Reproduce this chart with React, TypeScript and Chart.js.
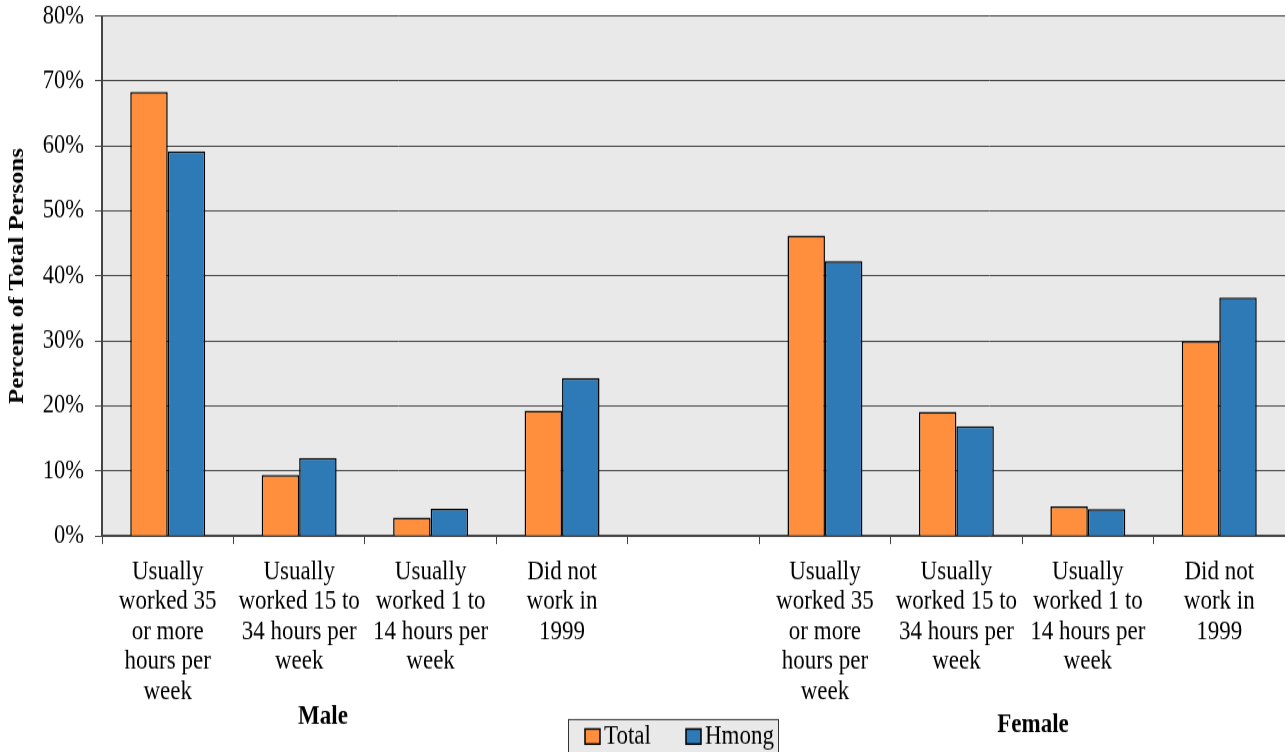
import React, { useEffect, useRef } from "react";
import { Chart, registerables } from "chart.js";

Chart.register(...registerables);

const categories: (string | string[])[] = [
  ["Usually", "worked 35", "or more", "hours per", "week"],
  ["Usually", "worked 15 to", "34 hours per", "week"],
  ["Usually", "worked 1 to", "14 hours per", "week"],
  ["Did not", "work in", "1999"],
  "",
  ["Usually", "worked 35", "or more", "hours per", "week"],
  ["Usually", "worked 15 to", "34 hours per", "week"],
  ["Usually", "worked 1 to", "14 hours per", "week"],
  ["Did not", "work in", "1999"],
];

const totalValues: (number | null)[] = [68.3, 9.4, 2.85, 19.3, null, 46.2, 19.1, 4.55, 30.0];
const hmongValues: (number | null)[] = [59.2, 12.0, 4.2, 24.3, null, 42.3, 16.9, 4.15, 36.7];

const seriesNames = ["Total", "Hmong"];
const seriesColors = ["#FF8F3D", "#2E7AB6"];
const groupLabels = ["Male", "Female"];
const yTicks = [0, 10, 20, 30, 40, 50, 60, 70, 80];
const yTitle = "Percent of Total Persons";

const SERIF = "'Liberation Serif', 'Times New Roman', serif";

// The reference is drawn slightly stretched vertically; render at a shorter
// internal height and stretch the canvas to the full window height.
const W = 1285;
const H_OUT = 752;
const F = 1.175;
const H = Math.round(H_OUT / F);
const v = (y: number) => y / F;

const decorPlugin = {
  id: "decor",
  beforeDraw(chart: any) {
    const { ctx, chartArea } = chart;
    ctx.save();
    ctx.fillStyle = "#E9E9E9";
    ctx.fillRect(chartArea.left, chartArea.top, chartArea.right - chartArea.left, chartArea.bottom - chartArea.top);
    ctx.restore();
  },
  afterDraw(chart: any) {
    const { ctx } = chart;
    ctx.save();
    // group labels
    ctx.fillStyle = "#000";
    ctx.font = `bold 23px ${SERIF}`;
    ctx.textAlign = "center";
    ctx.textBaseline = "middle";
    ctx.fillText(groupLabels[0], 323, v(717));
    ctx.fillText(groupLabels[1], 1033, v(725));

    // legend box
    const bx = 568, by = v(719), bw = 210, bh = 60;
    ctx.fillStyle = "#E9E9E9";
    ctx.fillRect(bx, by, bw, bh);
    ctx.strokeStyle = "#333";
    ctx.lineWidth = 1;
    ctx.strokeRect(bx + 0.5, by + 0.5, bw, bh);

    const items = [
      { x: 585, label: seriesNames[0], color: seriesColors[0] },
      { x: 686, label: seriesNames[1], color: seriesColors[1] },
    ];
    ctx.font = `23px ${SERIF}`;
    ctx.textAlign = "left";
    ctx.textBaseline = "alphabetic";
    for (const it of items) {
      ctx.fillStyle = it.color;
      ctx.fillRect(it.x, v(729), 15, v(15));
      ctx.strokeStyle = "#000";
      ctx.lineWidth = 1.5;
      ctx.strokeRect(it.x, v(729), 15, v(15));
      ctx.fillStyle = "#000";
      ctx.fillText(it.label, it.x + 19, v(744));
    }
    ctx.restore();
  },
};

export default function App() {
  const canvasRef = useRef<HTMLCanvasElement | null>(null);

  useEffect(() => {
    if (!canvasRef.current) return;
    const chart = new Chart(canvasRef.current, {
      type: "bar",
      data: {
        labels: categories,
        datasets: [
          {
            label: seriesNames[0],
            data: totalValues,
            backgroundColor: seriesColors[0],
            borderColor: "#000",
            borderWidth: 1.5,
            categoryPercentage: 0.57,
            barPercentage: 1,
          },
          {
            label: seriesNames[1],
            data: hmongValues,
            backgroundColor: seriesColors[1],
            borderColor: "#000",
            borderWidth: 1.5,
            categoryPercentage: 0.57,
            barPercentage: 1,
          },
        ],
      },
      options: {
        animation: false,
        responsive: false,
        maintainAspectRatio: false,
        devicePixelRatio: 1,
        layout: { padding: { top: v(16), right: 0, left: 0, bottom: 0 } },
        plugins: {
          legend: { display: false },
          tooltip: { enabled: false },
        },
        scales: {
          x: {
            offset: true,
            grid: {
              offset: true,
              drawOnChartArea: false,
              drawTicks: true,
              tickLength: v(8),
              color: "#444",
              lineWidth: 1,
            },
            border: { display: true, color: "#444", width: 1.5 },
            ticks: {
              autoSkip: false,
              maxRotation: 0,
              minRotation: 0,
              padding: 11,
              color: "#000",
              font: { family: SERIF, size: 23, lineHeight: `${v(30)}px` },
            },
            afterFit: (s: any) => {
              s.height = v(216);
              s.paddingLeft = 0;
              s.paddingRight = 0;
            },
          },
          y: {
            min: 0,
            max: 80,
            afterBuildTicks: (s: any) => {
              s.ticks = yTicks.map((t) => ({ value: t }));
            },
            grid: {
              drawOnChartArea: true,
              drawTicks: true,
              tickLength: 7,
              color: "#444",
              lineWidth: 1,
            },
            border: { display: true, color: "#444", width: 2 },
            ticks: {
              padding: 11,
              color: "#000",
              font: { family: SERIF, size: 22.5 },
              callback: (t: any) => `${t}%`,
            },
            title: {
              display: true,
              text: yTitle,
              color: "#000",
              padding: { top: 5, bottom: 0 },
              font: { family: SERIF, size: 21, weight: "bold" },
            },
            afterFit: (s: any) => {
              s.width = 102;
              s.paddingTop = 0;
              s.paddingBottom = 0;
            },
          },
        },
      },
      plugins: [decorPlugin],
    });
    return () => chart.destroy();
  }, []);

  return (
    <div style={{ position: "fixed", left: 0, top: 0, width: W, height: H_OUT, background: "#fff" }}>
      <canvas ref={canvasRef} width={W} height={H} style={{ display: "block", width: W, height: H_OUT }} />
    </div>
  );
}
